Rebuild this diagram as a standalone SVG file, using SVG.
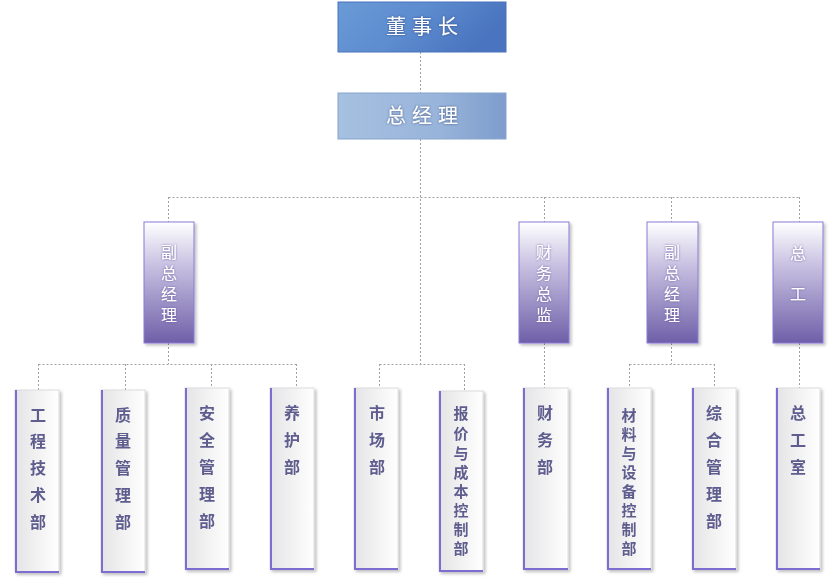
<svg xmlns="http://www.w3.org/2000/svg" width="834" height="584" viewBox="0 0 834 584">
<defs>
<linearGradient id="gTop" x1="0" y1="0" x2="1" y2="0.3"><stop offset="0" stop-color="#6a9ad6"/><stop offset="0.5" stop-color="#5d8ccf"/><stop offset="1" stop-color="#4a74bf"/></linearGradient>
<linearGradient id="gMgr" x1="0" y1="0" x2="1" y2="0"><stop offset="0" stop-color="#a6c0e0"/><stop offset="0.6" stop-color="#98b4da"/><stop offset="1" stop-color="#7e9ccd"/></linearGradient>
<linearGradient id="gMid" x1="0" y1="0" x2="0" y2="1"><stop offset="0" stop-color="#ffffff"/><stop offset="0.35" stop-color="#c9c2e2"/><stop offset="1" stop-color="#6e5fa8"/></linearGradient>
<linearGradient id="gLow" x1="0" y1="0" x2="1" y2="0"><stop offset="0" stop-color="#e4e4e6"/><stop offset="1" stop-color="#ffffff"/></linearGradient>
<filter id="sh" x="-20%" y="-10%" width="150%" height="120%"><feDropShadow dx="2" dy="2" stdDeviation="1.5" flood-color="#000" flood-opacity="0.25"/></filter>
<filter id="glow" x="-20%" y="-20%" width="140%" height="140%"><feDropShadow dx="0" dy="0" stdDeviation="1.2" flood-color="#2a3a70" flood-opacity="0.8"/></filter>
<filter id="glow2" x="-30%" y="-30%" width="160%" height="160%"><feDropShadow dx="0" dy="0" stdDeviation="1" flood-color="#5a4a9a" flood-opacity="0.8"/></filter>
</defs>
<style>
.con{fill:none;stroke:#a0a0a0;stroke-width:1;stroke-dasharray:2,2}
.top{font-family:"Noto Sans CJK SC",sans-serif;font-size:20px;fill:#fff;text-anchor:middle;letter-spacing:6px}
.mid{fill:url(#gMid);stroke:#8a7ad8;stroke-width:1}
.mt{font-family:"Noto Sans CJK SC",sans-serif;font-size:16px;fill:#fff;text-anchor:middle}
.low{fill:url(#gLow);stroke:#dcdce0;stroke-width:1}
.lb{stroke:#7c6ed0;stroke-width:2;fill:none}
.lt{font-family:"Noto Sans CJK SC",sans-serif;font-size:16px;font-weight:bold;fill:#5e5c8e;text-anchor:middle}
.lt8{font-size:15px}
</style>
<g id="connectors">
<path class="con" d="M420.5 52V93M420.5 139V364M168.5 197.5H799.5M168.5 197V222M544.5 197V222M671.5 197V222M799.5 197V222"/>
<path class="con" d="M168.5 343V364M38.5 364.5H296.5M38.5 364V390M125.5 364V390M211.5 364V388M296.5 364V388"/>
<path class="con" d="M379.5 364.5H464.5M379.5 364V388M464.5 364V391"/>
<path class="con" d="M544.5 343V388"/>
<path class="con" d="M671.5 343V364M629.5 364.5H714.5M629.5 364V388M714.5 364V388"/>
<path class="con" d="M799.5 343V388"/>
</g>
<g id="n-dongshizhang"><rect x="338" y="2" width="168" height="50" fill="url(#gTop)" stroke="#4a72bc"/><text class="top" x="425" y="34" filter="url(#glow)">董事长</text></g>
<g id="n-zongjingli"><rect x="338" y="93" width="168" height="46" fill="url(#gMgr)" stroke="#88a4d0"/><text class="top" x="425" y="123" filter="url(#glow)">总经理</text></g>
<g id="n-fuzong1" filter="url(#sh)"><rect class="mid" x="144" y="222" width="50" height="121"/><text class="mt" filter="url(#glow2)"><tspan x="169" y="258">副</tspan><tspan x="169" y="279">总</tspan><tspan x="169" y="300">经</tspan><tspan x="169" y="321">理</tspan></text></g>
<g id="n-caiwuzongjian" filter="url(#sh)"><rect class="mid" x="519" y="222" width="50" height="121"/><text class="mt" filter="url(#glow2)"><tspan x="544" y="258">财</tspan><tspan x="544" y="279">务</tspan><tspan x="544" y="300">总</tspan><tspan x="544" y="321">监</tspan></text></g>
<g id="n-fuzong2" filter="url(#sh)"><rect class="mid" x="647" y="222" width="51" height="121"/><text class="mt" filter="url(#glow2)"><tspan x="672" y="258">副</tspan><tspan x="672" y="279">总</tspan><tspan x="672" y="300">经</tspan><tspan x="672" y="321">理</tspan></text></g>
<g id="n-zonggong" filter="url(#sh)"><rect class="mid" x="773" y="222" width="50" height="121"/><text class="mt" filter="url(#glow2)"><tspan x="798" y="259">总</tspan><tspan x="798" y="300">工</tspan></text></g>
<g id="n-gongcheng" filter="url(#sh)"><rect class="low" x="15" y="390" width="44" height="182"/><path class="lb" d="M16 390V572H59"/><text class="lt"><tspan x="38" y="421">工</tspan><tspan x="38" y="447">程</tspan><tspan x="38" y="474">技</tspan><tspan x="38" y="501">术</tspan><tspan x="38" y="528">部</tspan></text></g>
<g id="n-zhiliang" filter="url(#sh)"><rect class="low" x="101" y="390" width="44" height="182"/><path class="lb" d="M102 390V572H145"/><text class="lt"><tspan x="123" y="421">质</tspan><tspan x="123" y="447">量</tspan><tspan x="123" y="474">管</tspan><tspan x="123" y="501">理</tspan><tspan x="123" y="528">部</tspan></text></g>
<g id="n-anquan" filter="url(#sh)"><rect class="low" x="185" y="388" width="44" height="181"/><path class="lb" d="M186 388V569H229"/><text class="lt"><tspan x="207" y="419">安</tspan><tspan x="207" y="446">全</tspan><tspan x="207" y="473">管</tspan><tspan x="207" y="500">理</tspan><tspan x="207" y="527">部</tspan></text></g>
<g id="n-yanghu" filter="url(#sh)"><rect class="low" x="270" y="388" width="44" height="181"/><path class="lb" d="M271 388V569H314"/><text class="lt"><tspan x="292" y="419">养</tspan><tspan x="292" y="446">护</tspan><tspan x="292" y="473">部</tspan></text></g>
<g id="n-shichang" filter="url(#sh)"><rect class="low" x="354" y="388" width="44" height="181"/><path class="lb" d="M355 388V569H398"/><text class="lt"><tspan x="377" y="419">市</tspan><tspan x="377" y="446">场</tspan><tspan x="377" y="473">部</tspan></text></g>
<g id="n-baojia" filter="url(#sh)"><rect class="low" x="439" y="391" width="44" height="180"/><path class="lb" d="M440 391V571H483"/><text class="lt lt8"><tspan x="461" y="419">报</tspan><tspan x="461" y="439">价</tspan><tspan x="461" y="459">与</tspan><tspan x="461" y="478">成</tspan><tspan x="461" y="497">本</tspan><tspan x="461" y="516">控</tspan><tspan x="461" y="535">制</tspan><tspan x="461" y="554">部</tspan></text></g>
<g id="n-caiwu" filter="url(#sh)"><rect class="low" x="523" y="388" width="45" height="181"/><path class="lb" d="M524 388V569H568"/><text class="lt"><tspan x="545" y="419">财</tspan><tspan x="545" y="446">务</tspan><tspan x="545" y="473">部</tspan></text></g>
<g id="n-cailiao" filter="url(#sh)"><rect class="low" x="607" y="388" width="44" height="181"/><path class="lb" d="M608 388V569H651"/><text class="lt lt8"><tspan x="629" y="421">材</tspan><tspan x="629" y="440">料</tspan><tspan x="629" y="459">与</tspan><tspan x="629" y="478">设</tspan><tspan x="629" y="497">备</tspan><tspan x="629" y="516">控</tspan><tspan x="629" y="535">制</tspan><tspan x="629" y="554">部</tspan></text></g>
<g id="n-zonghe" filter="url(#sh)"><rect class="low" x="692" y="388" width="44" height="181"/><path class="lb" d="M693 388V569H736"/><text class="lt"><tspan x="714" y="419">综</tspan><tspan x="714" y="446">合</tspan><tspan x="714" y="473">管</tspan><tspan x="714" y="500">理</tspan><tspan x="714" y="527">部</tspan></text></g>
<g id="n-zonggongshi" filter="url(#sh)"><rect class="low" x="776" y="388" width="44" height="181"/><path class="lb" d="M777 388V569H820"/><text class="lt"><tspan x="798" y="419">总</tspan><tspan x="798" y="446">工</tspan><tspan x="798" y="473">室</tspan></text></g>
</svg>
